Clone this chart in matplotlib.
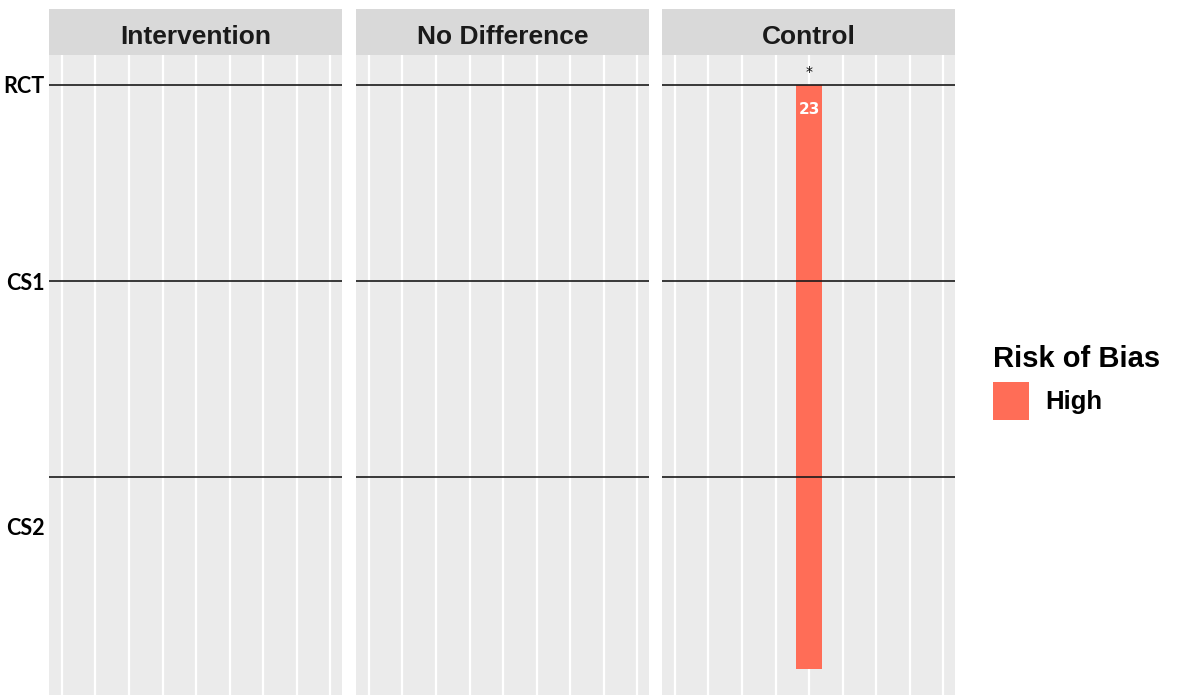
import matplotlib.pyplot as plt
from matplotlib.patches import Patch

# panels and study designs
panels = ["Intervention", "No Difference", "Control"]
designs = ["RCT", "CS1", "CS2"]
design_pos = [0, 1, 2.25]          # where the y labels sit
rule_pos = [0, 1, 2]               # black separator lines
grid_x = [1, 2, 3, 4, 5, 6, 7, 8, 9]

# the one bar: panel, x slot, start, end, count label, risk level
bar_panel = ["Control"]
bar_x = [5]
bar_start = [0]
bar_end = [2.98]
bar_count = ["23"]
bar_risk = ["High"]

risk_colors = {"High": "#FF6D57"}

W, H = 1185, 695
fig = plt.figure(figsize=(W / 100, H / 100), dpi=100)

lefts = [49, 356, 662]
pw = 293
top, bottom = 55, 695
strip_top = 9

for i, name in enumerate(panels):
    ax = fig.add_axes([lefts[i] / W, 1 - bottom / H, pw / W, (bottom - top) / H])
    ax.set_facecolor("#EBEBEB")
    for s in ax.spines.values():
        s.set_visible(False)
    ax.set_xlim(0.612, 9.358)
    ax.set_ylim(3.112, -0.153)
    ax.set_xticks(grid_x)
    ax.grid(axis="x", color="white", linewidth=1.6)
    ax.set_axisbelow(True)
    ax.tick_params(axis="x", length=0, labelbottom=False)
    for y in rule_pos:
        ax.axhline(y, color="#1a1a1a", linewidth=1.2, zorder=3)
    if i == 0:
        ax.set_yticks(design_pos)
        ax.set_yticklabels(designs, fontfamily="Lato", fontweight="bold", fontsize=15.5)
        ax.tick_params(axis="y", length=0, pad=3)
    else:
        ax.set_yticks([])
    for p, x, y0, y1, c, r in zip(bar_panel, bar_x, bar_start, bar_end, bar_count, bar_risk):
        if p != name:
            continue
        ax.bar(x, y1 - y0, bottom=y0, width=0.75, color=risk_colors[r], zorder=2)
        ax.text(x, y0 + 0.125, c, color="white", fontweight="bold", fontsize=11,
                ha="center", va="center", zorder=4)
        ax.text(x, y0 - 0.065, "*", color="black", fontsize=10,
                ha="center", va="center")

    sax = fig.add_axes([lefts[i] / W, 1 - top / H, pw / W, (top - strip_top) / H])
    sax.set_facecolor("#D9D9D9")
    sax.set_xticks([])
    sax.set_yticks([])
    for s in sax.spines.values():
        s.set_visible(False)
    sax.text(0.5, 0.4, name, transform=sax.transAxes, ha="center", va="center",
             fontfamily="Liberation Sans", fontweight="bold", fontsize=19, color="#1a1a1a")

handles = [Patch(facecolor=risk_colors[r], label=r) for r in risk_colors]
leg = fig.legend(handles=handles, title="Risk of Bias", loc="upper left",
                 bbox_to_anchor=(966 / W, 1 - 318 / H), frameon=False,
                 prop={"family": "Liberation Sans", "weight": "bold", "size": 18.5},
                 title_fontproperties={"family": "Liberation Sans", "weight": "bold", "size": 21},
                 handlelength=1.4, handleheight=1.9, handletextpad=0.65,
                 labelspacing=0.35, borderpad=0.55, alignment="left")

fig.savefig("out.png", dpi=100)
